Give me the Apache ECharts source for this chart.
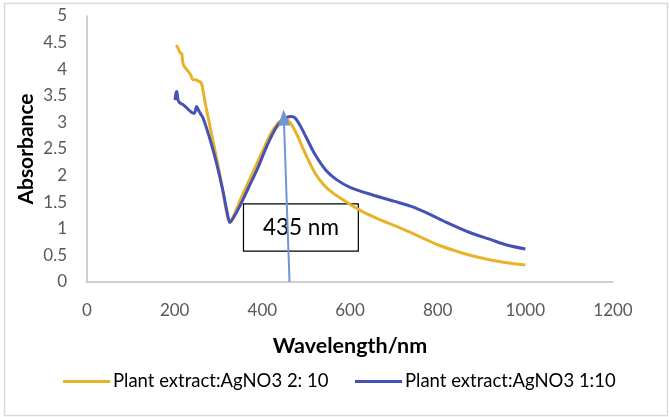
<!DOCTYPE html>
<html><head><meta charset="utf-8">
<script src="https://cdn.jsdelivr.net/npm/echarts@6/dist/echarts.min.js"></script>
<style>html,body{margin:0;padding:0;background:#fff}#c{width:669px;height:417px}</style>
</head><body><div id="c"></div>
<script>
// Series 1: Plant extract:AgNO3 2: 10
const wlA = [203,206,210,213,216,218,222,230,236,242,248,255,260,263,270,280,290,300,310,320,326,335,350,375,400,420,435,445,452,459,468,480,500,520,540,560,585,620,660,710,760,800,850,900,950,1000];
const absA = [4.45,4.42,4.35,4.30,4.30,4.15,4.05,3.97,3.90,3.80,3.80,3.77,3.75,3.68,3.35,2.95,2.55,2.15,1.70,1.25,1.12,1.25,1.55,2.00,2.45,2.80,2.98,3.05,3.07,3.04,2.94,2.75,2.38,2.05,1.83,1.68,1.54,1.36,1.20,1.03,0.85,0.70,0.56,0.45,0.37,0.32];
// Series 2: Plant extract:AgNO3 1:10
const wlB = [201,203,205,207,210,215,220,230,240,245,250,255,260,265,280,295,310,320,326,335,350,370,390,410,430,445,457,466,475,487,500,520,545,570,600,650,700,740,780,820,870,920,960,1000];
const absB = [3.42,3.55,3.58,3.45,3.38,3.35,3.33,3.25,3.18,3.17,3.30,3.22,3.15,3.08,2.70,2.25,1.72,1.30,1.12,1.22,1.45,1.80,2.15,2.55,2.88,3.04,3.10,3.11,3.08,2.93,2.72,2.40,2.10,1.92,1.78,1.64,1.52,1.42,1.28,1.12,0.94,0.80,0.69,0.62];
const seriesNames = ['Plant extract:AgNO3 2: 10', 'Plant extract:AgNO3 1:10'];
const xTicks = [0, 200, 400, 600, 800, 1000, 1200];
const yTicks = [0, 0.5, 1, 1.5, 2, 2.5, 3, 3.5, 4, 4.5, 5];
// annotation: arrow from axis to peak, label box
const arrowFrom = [462, 0];
const arrowTo = [449, 3.09];
const boxFrom = [357, 1.47];
const boxTo = [619, 0.58];
const peakLabel = '435 nm';

const FONT = "Lato, 'Open Sans', sans-serif";
const chart = echarts.init(document.getElementById('c'), null, {renderer: 'canvas'});
const pairs = (xs, ys) => xs.map((x, i) => [x, ys[i]]);
const legendBase = {top: 372, itemWidth: 47, itemHeight: 3, icon: 'rect', padding: 0,
  textStyle: {fontSize: 18.5, color: '#000', fontFamily: FONT, padding: [0, 0, 0, -2]}};
chart.setOption({
  animation: false,
  backgroundColor: '#fff',
  textStyle: {fontFamily: FONT},
  grid: {left: 87, right: 56, top: 16, bottom: 135, containLabel: false},
  legend: [
    Object.assign({data: [seriesNames[0]], left: 63}, legendBase),
    Object.assign({data: [seriesNames[1]], left: 355}, legendBase)
  ],
  xAxis: {
    type: 'value', min: xTicks[0], max: xTicks[xTicks.length - 1], interval: 200,
    name: 'Wavelength/nm', nameLocation: 'middle', nameGap: 53,
    nameTextStyle: {fontSize: 21.5, fontWeight: 'bold', color: '#000', fontFamily: FONT},
    axisLine: {show: true, lineStyle: {color: '#BFBFBF', width: 1.5}},
    axisTick: {show: false}, splitLine: {show: false},
    axisLabel: {fontSize: 17, color: '#595959', margin: 20, fontFamily: FONT, formatter: v => String(v)}
  },
  yAxis: {
    type: 'value', min: yTicks[0], max: yTicks[yTicks.length - 1], interval: 0.5,
    name: 'Absorbance', nameLocation: 'middle', nameGap: 50, nameRotate: 90, nameMoveOverlap: false,
    nameTextStyle: {fontSize: 21, fontWeight: 'bold', color: '#000', fontFamily: FONT},
    axisLine: {show: true, lineStyle: {color: '#BFBFBF', width: 1.5}},
    axisTick: {show: false}, splitLine: {show: false},
    axisLabel: {fontSize: 17, color: '#595959', margin: 20, padding: [6, 0, 0, 0], fontFamily: FONT, formatter: v => String(v)}
  },
  series: [
    {
      name: seriesNames[0], type: 'line', data: pairs(wlA, absA), showSymbol: false, smooth: 0.3,
      lineStyle: {width: 3, color: '#E8B22A'}, itemStyle: {color: '#E8B22A'}, z: 3,
      markArea: {
        silent: true,
        itemStyle: {color: '#fff', borderColor: '#000', borderWidth: 1.2},
        label: {show: true, position: 'inside', fontSize: 22.5, color: '#000', fontFamily: FONT},
        data: [[{name: peakLabel, coord: boxFrom}, {coord: boxTo}]]
      }
    },
    {
      name: seriesNames[1], type: 'line', data: pairs(wlB, absB), showSymbol: false, smooth: 0.3,
      lineStyle: {width: 3, color: '#4352B4'}, itemStyle: {color: '#4352B4'}, z: 4,
      markLine: {
        silent: true, symbol: ['none', 'triangle'], symbolSize: [12, 16], z: 10,
        lineStyle: {color: '#7295D6', width: 2, type: 'solid'}, label: {show: false},
        data: [[{coord: arrowFrom}, {coord: arrowTo}]]
      }
    }
  ],
  graphic: [{type: 'rect', left: 2, top: 1, shape: {width: 663, height: 412}, style: {fill: 'none', stroke: '#D9D9D9', lineWidth: 1.5}, silent: true}]
});
</script></body></html>
